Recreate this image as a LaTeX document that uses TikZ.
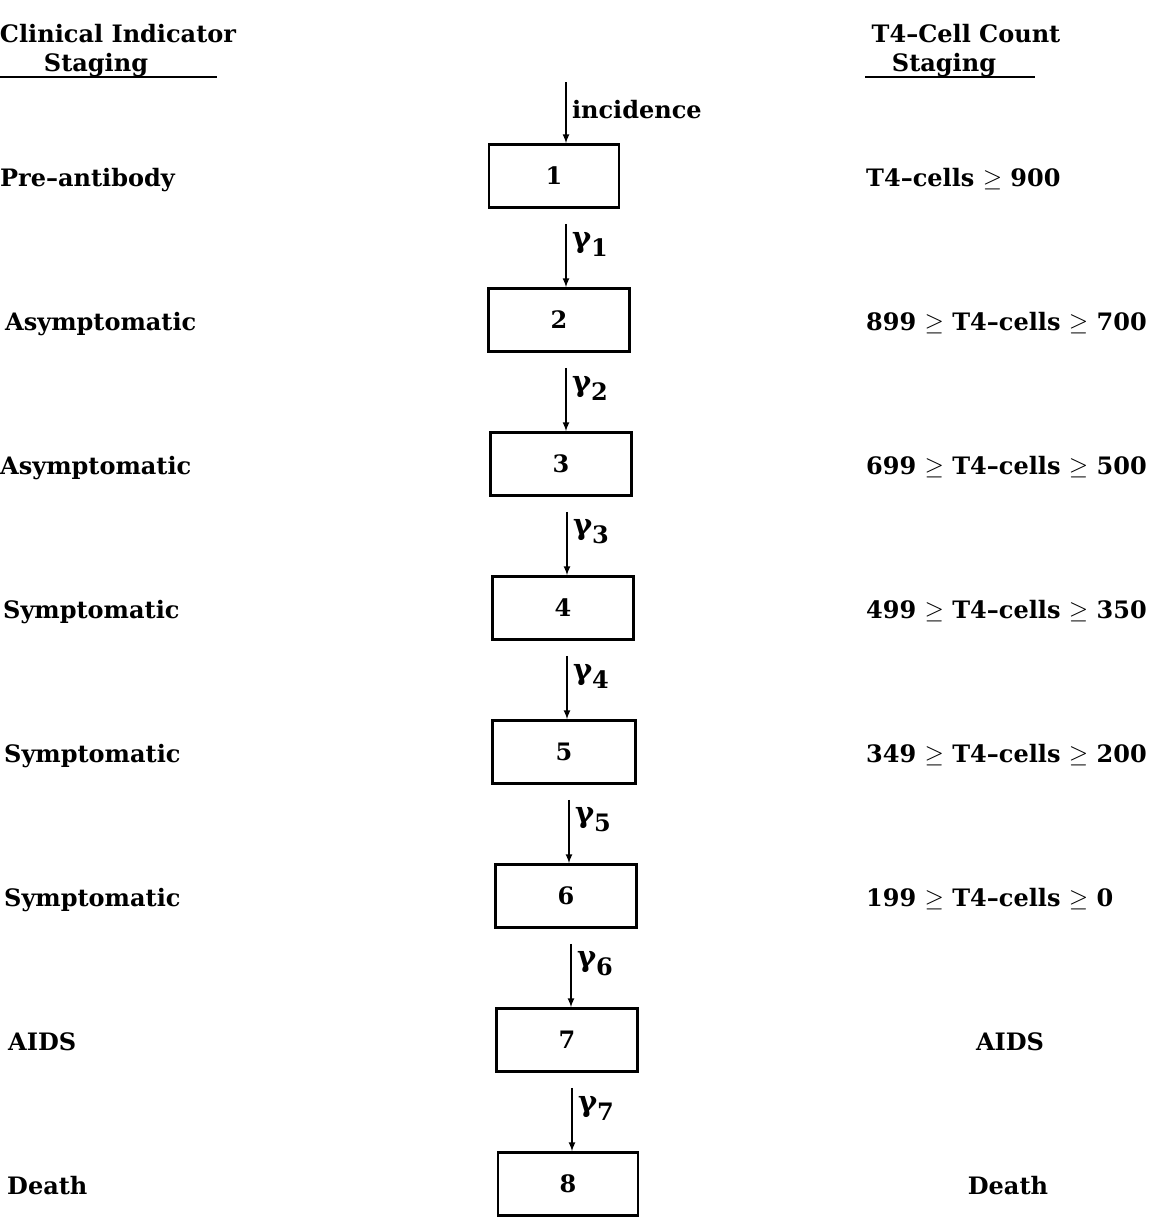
\documentclass[tikz,border=0pt]{standalone}
\usepackage{amsmath}
\usepackage{amssymb}
\usepackage{fontspec}
\setmainfont{DejaVu Serif}
\usetikzlibrary{arrows}
\newcommand{\bodyfont}{\fontsize{24}{29}\selectfont\bfseries}
\tikzset{
	stage/.style  = {draw, line width=2.6pt, rectangle, minimum height=63pt,
		minimum width=141pt, inner sep=0pt, font=\bodyfont},
	clin/.style   = {anchor=base west, inner sep=0pt}, % left column
	count/.style  = {anchor=base west, inner sep=0pt}, % right column
	head/.style   = {anchor=base, inner sep=0pt},
	flow/.style   = {->, line width=2pt, shorten <=15pt},
	rate/.style   = {right, inner sep=5pt}
}
\newcommand{\rategam}[1]{{\fontsize{29}{32}\selectfont γ}\raisebox{-9pt}{#1}}

\begin{document}
\begin{tikzpicture}[x=1pt, y=-1pt, >=latex, font=\bodyfont]
	\useasboundingbox (0,0) rectangle (1152,1218);

	% headings
	\draw
	node at (118,42)[head] (hl1) {Clinical Indicator}
	node at (96,71)[head] (hl2) {Staging}
	node at (966,42)[head] (hr1) {T4–Cell Count}
	node at (944,71)[head] (hr2) {Staging};
	\coordinate (ul1) at (0,77);
	\coordinate (ul2) at (217,77);
	\coordinate (ur1) at (865,77);
	\coordinate (ur2) at (1035,77);
	\draw[line width=1.8pt] (ul1) -- (ul2);
	\draw[line width=1.8pt] (ur1) -- (ur2);

	% stages
	\draw
	node at (554,176)[stage, minimum width=130pt] (s1) {1}
	node at (559,320)[stage] (s2) {2}
	node at (561,464)[stage] (s3) {3}
	node at (563,608)[stage] (s4) {4}
	node at (564,752)[stage, minimum width=143pt] (s5) {5}
	node at (566,896)[stage] (s6) {6}
	node at (567,1040)[stage] (s7) {7}
	node at (568,1184)[stage, minimum width=140pt] (s8) {8};

	% flows
	\coordinate (inc) at (566,82);
	\draw[->, line width=2pt] (inc) -- node[rate, pos=0.45] {incidence} (inc |- s1.north);
	\draw[flow] ([xshift=7pt]s2.north |- s1.south) -- node[rate, pos=0.45] {\rategam{1}} ([xshift=7pt]s2.north);
	\draw[flow] ([xshift=5pt]s3.north |- s2.south) -- node[rate, pos=0.45] {\rategam{2}} ([xshift=5pt]s3.north);
	\draw[flow] ([xshift=4pt]s4.north |- s3.south) -- node[rate, pos=0.45] {\rategam{3}} ([xshift=4pt]s4.north);
	\draw[flow] ([xshift=3pt]s5.north |- s4.south) -- node[rate, pos=0.45] {\rategam{4}} ([xshift=3pt]s5.north);
	\draw[flow] ([xshift=3pt]s6.north |- s5.south) -- node[rate, pos=0.45] {\rategam{5}} ([xshift=3pt]s6.north);
	\draw[flow] ([xshift=4pt]s7.north |- s6.south) -- node[rate, pos=0.45] {\rategam{6}} ([xshift=4pt]s7.north);
	\draw[flow] ([xshift=4pt]s8.north |- s7.south) -- node[rate, pos=0.45] {\rategam{7}} ([xshift=4pt]s8.north);

	% clinical indicator staging
	\draw
	node at (0,186)[clin] (c1) {Pre–antibody}
	node at (5,330)[clin] (c2) {Asymptomatic}
	node at (0,474)[clin] (c3) {Asymptomatic}
	node at (3,618)[clin] (c4) {Symptomatic}
	node at (4,762)[clin] (c5) {Symptomatic}
	node at (4,906)[clin] (c6) {Symptomatic}
	node at (8,1050)[clin] (c7) {AIDS}
	node at (7,1194)[clin] (c8) {Death};

	% T4-cell count staging
	\draw
	node at (866,186)[count] (t1) {T4–cells $\geq$ 900}
	node at (866,330)[count] (t2) {899 $\geq$ T4–cells $\geq$ 700}
	node at (866,474)[count] (t3) {699 $\geq$ T4–cells $\geq$ 500}
	node at (866,618)[count] (t4) {499 $\geq$ T4–cells $\geq$ 350}
	node at (866,762)[count] (t5) {349 $\geq$ T4–cells $\geq$ 200}
	node at (866,906)[count] (t6) {199 $\geq$ T4–cells $\geq$ 0}
	node at (1010,1050)[head] (t7) {AIDS}
	node at (1008,1194)[head] (t8) {Death};
\end{tikzpicture}
\end{document}
